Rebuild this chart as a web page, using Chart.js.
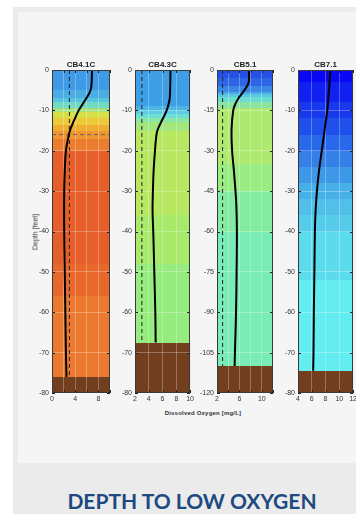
<!DOCTYPE html>
<html>
<head>
<meta charset="utf-8">
<script src="https://cdn.jsdelivr.net/npm/chart.js@4.4.1/dist/chart.umd.min.js"></script>
<style>
  html, body { margin: 0; padding: 0; }
  body { width: 356px; height: 514px; position: relative; overflow: hidden; background: #fff; font-family: "Liberation Sans", Arial, sans-serif; }
  .outer { position: absolute; left: 13px; top: 7px; right: 0; bottom: 0; background: #ebebeb; }
  .inner { position: absolute; left: 18px; top: 12px; width: 338px; height: 451px; background: #f5f5f5; }
  canvas { position: absolute; top: 56px; }
  .ylab { position: absolute; left: 35px; top: 232px; transform: translate(-50%, -50%) rotate(-90deg); font-size: 7px; color: #333; white-space: nowrap; }
  .xlab { position: absolute; left: 203px; top: 413px; transform: translate(-50%, -50%); font-size: 6px; font-weight: bold; color: #333; white-space: nowrap; letter-spacing: 0.2px; }
  .title { position: absolute; left: 192px; top: 500px; transform: translate(-50%, -50%); font-family: Lato, "Open Sans", sans-serif; font-weight: 700; font-size: 21px; color: #1d4a80; white-space: nowrap; }
</style>
</head>
<body>
<div class="outer"></div>
<div class="inner"></div>
<canvas id="p1" width="85" height="349" style="left:30px"></canvas>
<canvas id="p2" width="83" height="349" style="left:113px"></canvas>
<canvas id="p3" width="83" height="349" style="left:195px"></canvas>
<canvas id="p4" width="83" height="349" style="left:276px"></canvas>
<div class="ylab">Depth [feet]</div>
<div class="xlab">Dissolved Oxygen [mg/L]</div>
<div class="title">DEPTH TO LOW OXYGEN</div>

<script>
// Hypoxia threshold (mg/L) and the pycnocline marker at CB4.1C
const HYPOXIA = 3;
const PYCNO_DEPTH = -16;
const SEABED_COLOR = '#723e1d';

// CB4.1C
const cb41Depth = [0, -2.5, -5, -7.5, -10, -12.5, -15, -17.5, -20, -25, -30, -40, -50, -60, -70, -76];
const cb41DO    = [6.9, 6.85, 6.65, 5.7, 4.6, 3.8, 3.1, 2.7, 2.4, 2.2, 2.1, 2.1, 2.2, 2.3, 2.4, 2.5];
const cb41Edges  = [0, -5, -7, -8, -9.5, -10.5, -12, -13.5, -15, -17, -20, -48, -56, -76];
const cb41Colors = ['#3f9be6', '#4aaee5', '#56c4df', '#72d9c4', '#a2e07a', '#d6df48', '#ecca3a', '#f0ae30', '#f09530', '#ec7c2e', '#e65e2a', '#e8682b', '#ec792f'];
const cb41XLabels = [0, 4, 8];

// CB4.3C
const cb43Depth = [0, -5, -7.5, -10, -12.5, -15, -17, -20, -25, -30, -35, -40, -50, -60, -67.5];
const cb43DO    = [7.15, 7.1, 7.0, 6.6, 5.9, 5.25, 5.05, 4.9, 4.7, 4.6, 4.55, 4.65, 4.8, 4.95, 5.0];
const cb43Edges  = [0, -9, -10, -11, -12, -13, -15, -36, -48, -67.5];
const cb43Colors = ['#3e9ee6', '#4cb4e6', '#5ccbe4', '#6ee0d6', '#88e6a8', '#a4e67e', '#b8e862', '#a8ea6c', '#96ec7e'];
const cb43XLabels = [2, 4, 6, 8, 10];

// CB5.1
const cb51Depth = [0, -4, -5.5, -7.5, -10, -12.5, -15, -22, -30, -37, -45, -50, -60, -75, -90, -105, -110];
const cb51DO    = [7.7, 7.7, 7.5, 6.9, 6.0, 5.3, 4.9, 4.6, 4.7, 5.0, 5.3, 5.45, 5.55, 5.5, 5.4, 5.2, 5.15];
const cb51Edges  = [0, -3, -6, -8, -9, -10, -12, -14, -35, -45, -60, -110];
const cb51Colors = ['#2450e6', '#2e64e6', '#3c86e6', '#4aa8e6', '#58c8e2', '#6adcd0', '#8ae4a0', '#aeea70', '#98ec82', '#84eca0', '#78ecb4'];
const cb51XLabels = [2, 6, 10];

// CB7.1
const cb71Depth = [0, -5, -10, -15, -20, -25, -30, -35, -40, -50, -60, -70, -74.5];
const cb71DO    = [8.7, 8.5, 8.25, 7.85, 7.45, 7.05, 6.75, 6.55, 6.45, 6.38, 6.3, 6.25, 6.2];
const cb71Edges  = [0, -3, -8, -12, -16, -20, -24, -28, -32, -36, -40, -52, -74.5];
const cb71Colors = ['#0808f4', '#1020f0', '#1838ee', '#2050ec', '#2868ea', '#3480e8', '#3e98e8', '#48b0e8', '#50c0ea', '#54ccea', '#5adcec', '#62eef0'];
const cb71XLabels = [4, 6, 8, 10, 12];

const FONT = { family: '"Liberation Sans", Arial, sans-serif', size: 7 };

// background bands, frame, inward ticks and station name
const panelPlugin = {
    id: 'panel',
    beforeDraw(chart, args, opts) {
        const { ctx, chartArea: a, scales: { y } } = chart;
        ctx.save();
        for (let i = 0; i < opts.colors.length; i++) {
            const t = Math.round(y.getPixelForValue(opts.edges[i]));
            const b = Math.round(y.getPixelForValue(opts.edges[i + 1]));
            ctx.fillStyle = opts.colors[i];
            ctx.fillRect(a.left, t, a.right - a.left, b - t);
        }
        const sb = Math.round(y.getPixelForValue(opts.seabed));
        ctx.fillStyle = SEABED_COLOR;
        ctx.fillRect(a.left, sb, a.right - a.left, a.bottom - sb);
        ctx.restore();
    },
    afterDatasetsDraw(chart, args, opts) {
        const { ctx, chartArea: a, scales: { x, y } } = chart;
        ctx.save();
        ctx.strokeStyle = '#222';
        ctx.lineWidth = 1;
        ctx.beginPath();
        y.ticks.forEach(t => {
            const py = Math.round(y.getPixelForValue(t.value)) + 0.5;
            ctx.moveTo(a.left, py); ctx.lineTo(a.left + 3, py);
            ctx.moveTo(a.right, py); ctx.lineTo(a.right - 3, py);
        });
        x.ticks.forEach(t => {
            const px = Math.round(x.getPixelForValue(t.value)) + 0.5;
            ctx.moveTo(px, a.top); ctx.lineTo(px, a.top + 3);
            ctx.moveTo(px, a.bottom); ctx.lineTo(px, a.bottom - 3);
        });
        ctx.stroke();
        ctx.strokeStyle = '#3a3a3a';
        ctx.strokeRect(Math.round(a.left) + 0.5, Math.round(a.top) + 0.5, Math.round(a.right - a.left) - 1, Math.round(a.bottom - a.top) - 1);
        ctx.fillStyle = '#222';
        ctx.font = 'bold 8px "Liberation Sans", Arial, sans-serif';
        ctx.textAlign = 'center';
        ctx.textBaseline = 'alphabetic';
        ctx.fillText(opts.name, (a.left + a.right) / 2, a.top - 3);
        ctx.restore();
    }
};

function toPoints(xs, ys) {
    return xs.map((v, i) => ({ x: v, y: ys[i] }));
}

function makePanel(id, name, depth, dox, edges, colors, seabed, xMin, xMax, yMin, yStep, xLabels, showPycno) {
    const datasets = [
        { data: toPoints(dox, depth), showLine: true, borderColor: '#000', borderWidth: 2, pointRadius: 0, tension: 0.4 }
    ];
    if (HYPOXIA >= xMin) {
        datasets.push({ data: [{ x: HYPOXIA, y: 0 }, { x: HYPOXIA, y: seabed }], showLine: true, borderColor: '#222', borderWidth: 1, borderDash: [4, 3], pointRadius: 0 });
    }
    if (showPycno) {
        datasets.push({ data: [{ x: xMin, y: PYCNO_DEPTH }, { x: xMax, y: PYCNO_DEPTH }], showLine: true, borderColor: '#666', borderWidth: 1, borderDash: [4, 3], pointRadius: 0 });
    }
    new Chart(document.getElementById(id), {
        type: 'scatter',
        data: { datasets },
        options: {
            responsive: false, animation: false,
            layout: { padding: { top: 14, right: 5, left: 0, bottom: 0 } },
            plugins: {
                legend: { display: false }, tooltip: { enabled: false },
                panel: { name, edges, colors, seabed }
            },
            scales: {
                x: {
                    type: 'linear', min: xMin, max: xMax,
                    afterFit: s => { s.height = 12; },
                    grid: { color: 'rgba(255,255,255,0.28)', drawTicks: false },
                    border: { display: false },
                    ticks: { stepSize: 2, autoSkip: false, maxRotation: 0, padding: 2, color: '#333', font: FONT,
                        callback: v => xLabels.includes(v) ? String(v) : '' }
                },
                y: {
                    type: 'linear', min: yMin, max: 0,
                    afterFit: s => { s.width = 22; },
                    grid: { color: 'rgba(255,255,255,0.28)', drawTicks: false },
                    border: { display: false },
                    ticks: { stepSize: yStep, autoSkip: false, padding: 3, color: '#333', font: FONT }
                }
            }
        },
        plugins: [panelPlugin]
    });
}

makePanel('p1', 'CB4.1C', cb41Depth, cb41DO, cb41Edges, cb41Colors, -76, 0, 10, -80, 10, cb41XLabels, true);
makePanel('p2', 'CB4.3C', cb43Depth, cb43DO, cb43Edges, cb43Colors, -67.5, 2, 10, -80, 10, cb43XLabels, false);
makePanel('p3', 'CB5.1', cb51Depth, cb51DO, cb51Edges, cb51Colors, -110, 2, 12, -120, 15, cb51XLabels, false);
makePanel('p4', 'CB7.1', cb71Depth, cb71DO, cb71Edges, cb71Colors, -74.5, 4, 12, -80, 10, cb71XLabels, false);
</script>
</body>
</html>
